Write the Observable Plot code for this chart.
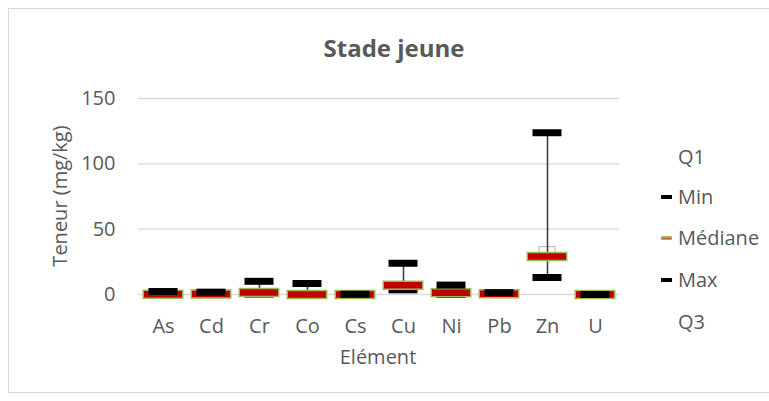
<!DOCTYPE html>
<html>
<head>
<meta charset="utf-8">
<script src="https://cdn.jsdelivr.net/npm/d3@7"></script>
<script src="https://cdn.jsdelivr.net/npm/@observablehq/plot@0.6"></script>
<style>
  body { margin: 0; background: #fff; }
  #wrap { position: relative; width: 769px; height: 401px; overflow: hidden; font-family: "Open Sans", sans-serif; color: #595959; }
  #frame { position: absolute; left: 8px; top: 8px; width: 800px; height: 385px; border: 1px solid #d9d9d9; box-sizing: border-box; }
  .t { position: absolute; white-space: nowrap; line-height: 1; }
  #title { left: 394px; top: 48px; transform: translate(-50%, -50%); font-size: 24px; font-weight: 700; }
  #ylab { left: 60px; top: 196px; transform: translate(-50%, -50%) rotate(-90deg); font-size: 20px; }
  #xlab { left: 378px; top: 357px; transform: translate(-50%, -50%); font-size: 20px; }
  .leg { position: absolute; left: 661px; font-size: 20px; white-space: nowrap; }
  .leg span.sw { display: inline-block; position: absolute; left: 0; width: 11px; height: 4px; }
  .leg span.mid { position: absolute; left: 1px; width: 9px; height: 1px; background: #c0504d; }
  .leg span.tx { position: absolute; left: 17px; transform: translateY(-50%); line-height: 1; }
  svg { position: absolute; left: 0; top: 0; }
</style>
</head>
<body>
<div id="wrap">
  <div id="frame"></div>
  <div id="title" class="t">Stade jeune</div>
  <div id="ylab" class="t">Teneur (mg/kg)</div>
  <div id="xlab" class="t">Elément</div>
  <div id="legend"></div>
</div>
<script>
const elements = ["As", "Cd", "Cr", "Co", "Cs", "Cu", "Ni", "Pb", "Zn", "U"];
const q1Values     = [0.2, 0.3, 1.2, 0.1, 0.0, 6.5, 1.0, 0.4, 30.0, 0.0];
const minValues    = [0.0, 0.0, 0.3, 0.0, 0.0, 3.6, 0.0, 0.0, 13.0, 0.0];
const medianValues = [0.2, 0.4, 1.5, 0.0, 0.0, 7.1, 1.3, 0.5, 29.0, 0.0];
const maxValues    = [2.3, 1.8, 10.1, 8.4, 0.2, 23.9, 7.2, 1.4, 123.8, 0.0];
const q3Values     = [0.4, 0.5, 2.0, 0.4, 0.1, 8.0, 2.0, 0.8, 36.3, 0.1];
const yTicks = [0, 50, 100, 150];
const legendLabels = ["Q1", "Min", "Médiane", "Max", "Q3"];

const data = elements.map((el, i) => ({
  el, q1: q1Values[i], min: minValues[i], median: medianValues[i], max: maxValues[i], q3: q3Values[i]
}));

const chart = Plot.plot({
  width: 769,
  height: 401,
  marginLeft: 138,
  marginRight: 150,
  marginTop: 98,
  marginBottom: 107,
  style: { fontFamily: "Open Sans", fontSize: "20px", color: "#595959", background: "transparent", overflow: "visible" },
  x: { domain: elements, padding: 0, label: null, tickSize: 0, tickPadding: 24 },
  y: { domain: [0, 150], ticks: yTicks, label: null, tickSize: 0, tickPadding: 23 },
  marks: [
    Plot.gridY(yTicks, { stroke: "#d9d9d9", strokeOpacity: 1, strokeWidth: 1.3 }),
    Plot.barY(data, { x: "el", y1: "q1", y2: "q3", fill: "white", stroke: "#bfbfbf", strokeWidth: 1.2, insetLeft: 16, insetRight: 16 }),
    Plot.ruleX(data, { x: "el", y1: "min", y2: "max", stroke: "#404040", strokeWidth: 1.6 }),
    Plot.tickY(data, { x: "el", y: "min", stroke: "#000", strokeWidth: 7, insetLeft: 9.5, insetRight: 9.5 }),
    Plot.tickY(data, { x: "el", y: "median", stroke: "#9bbb59", strokeWidth: 9.5, insetLeft: 3.5, insetRight: 3.5 }),
    Plot.tickY(data, { x: "el", y: "median", stroke: "#c00000", strokeWidth: 6.5, insetLeft: 5, insetRight: 5 }),
    Plot.tickY(data, { x: "el", y: "max", stroke: "#000", strokeWidth: 7, insetLeft: 9.5, insetRight: 9.5 })
  ]
});
document.getElementById("wrap").appendChild(chart);

// legend
const legY = [157, 197, 238, 280, 322];
const legSw = [null, "#000", "#9bbb59", "#000", null];
const legend = document.getElementById("legend");
legendLabels.forEach((lab, i) => {
  const d = document.createElement("div");
  d.className = "leg";
  d.style.top = legY[i] + "px";
  if (legSw[i]) {
    const s = document.createElement("span");
    s.className = "sw";
    s.style.background = legSw[i];
    s.style.top = "-2px";
    d.appendChild(s);
    if (i === 2) {
      const m = document.createElement("span");
      m.className = "mid";
      m.style.top = "-0.5px";
      d.appendChild(m);
    }
  }
  const t = document.createElement("span");
  t.className = "tx";
  t.textContent = lab;
  d.appendChild(t);
  legend.appendChild(d);
});
</script>
</body>
</html>
